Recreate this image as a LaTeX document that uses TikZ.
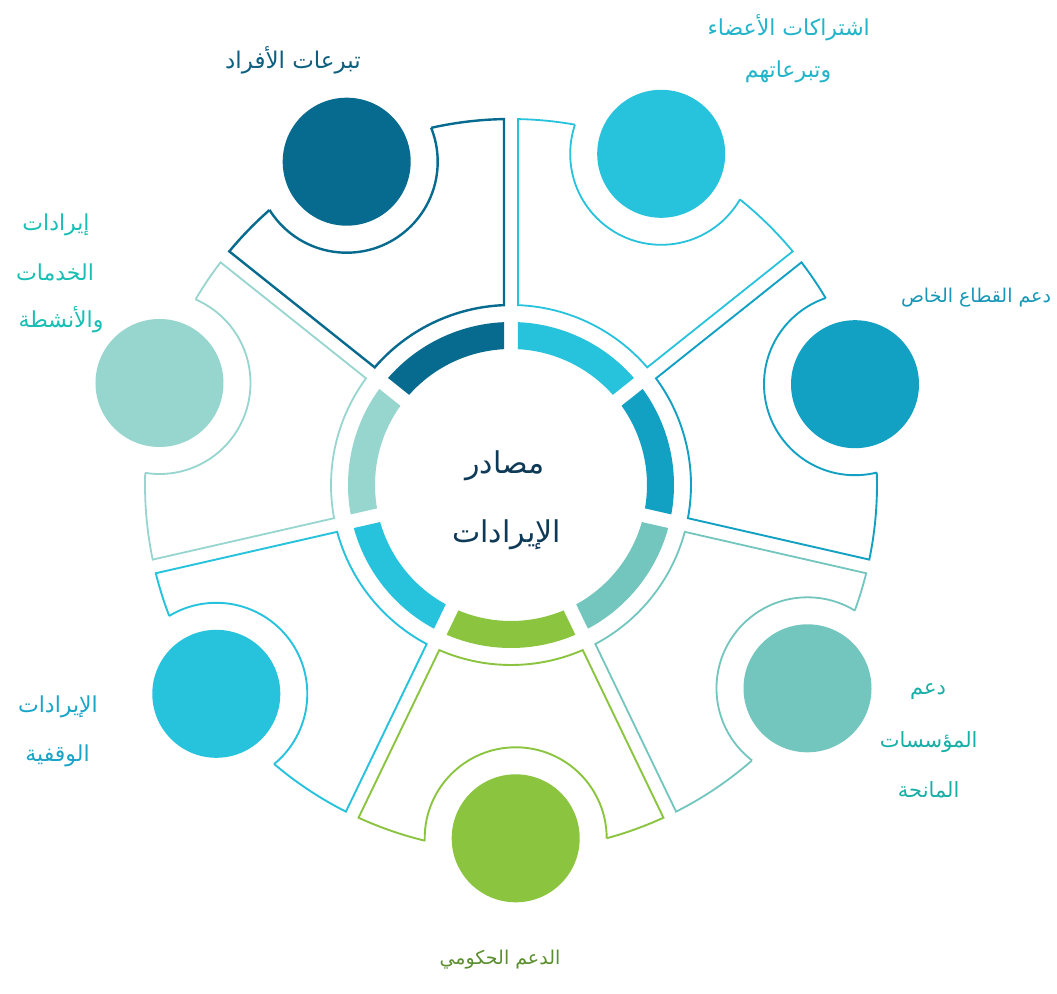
\documentclass[tikz,border=0pt]{standalone}
\usepackage{fontspec}
\newfontfamily\arabicfont[Script=Arabic]{DejaVu Sans}
\TeXXeTstate=1
\definecolor{cDark}{HTML}{076A8F}
\definecolor{cCyan}{HTML}{27C2DC}
\definecolor{cBlue}{HTML}{13A1C3}
\definecolor{cTeal}{HTML}{72C6BE}
\definecolor{cGreen}{HTML}{8BC540}
\definecolor{cLight}{HTML}{97D5CF}
\definecolor{tDark}{HTML}{0D5F7F}
\definecolor{tCyan}{HTML}{22B4CA}
\definecolor{tBlue}{HTML}{1598B8}
\definecolor{tTeal}{HTML}{17AFA6}
\definecolor{tGreen}{HTML}{5B8F2E}
\definecolor{tBL}{HTML}{1AA5C8}
\definecolor{tLeft}{HTML}{19BFB4}
\definecolor{tCenter}{HTML}{0E3A57}
\tikzset{
  lbl/.style={font=\arabicfont\fontsize{22}{26}\selectfont, inner sep=0pt, anchor=center},
  ctr/.style={font=\arabicfont\fontsize{30}{34}\selectfont, inner sep=0pt, anchor=center, text=tCenter}
}
\begin{document}
\begin{tikzpicture}[x=1pt,y=1pt]
\useasboundingbox (-511,-508) rectangle (546,485);
\fill[white] (-511,-508) rectangle (546,485);
\foreach \c/\col/\cx/\cy/\lw in {
  115.714/cDark/-164.3/323.3/2.4,
  64.286/cCyan/150.2/331.2/1.8,
  12.857/cBlue/344/100.8/1.9,
  -38.571/cTeal/296.5/-203.3/1.8,
  -90/cGreen/4.7/-353.3/1.9,
  -141.429/cCyan/-294.7/-208.8/1.9,
  167.143/cLight/-351.5/102/1.8}{
  \pgfmathsetmacro\aLo{\c-25.714}
  \pgfmathsetmacro\aHi{\c+25.714}
  \pgfmathsetmacro\dIn{asin(7/180)}
  \pgfmathsetmacro\dOut{asin(7/366)}
  \pgfmathsetmacro\gIn{asin(7/136)}
  \pgfmathsetmacro\gOut{asin(7/163)}
  % ring segment
  \fill[\col] ({\aLo+\gIn}:136) -- ({\aLo+\gOut}:163)
     arc[start angle={\aLo+\gOut}, end angle={\aHi-\gOut}, radius=163]
     -- ({\aHi-\gIn}:136)
     arc[start angle={\aHi-\gIn}, end angle={\aLo+\gIn}, radius=136] -- cycle;
  % outer shape
  \def\shp{({\aLo+\dIn}:180) -- ({\aLo+\dOut}:366)
     arc[start angle={\aLo+\dOut}, end angle={\aHi-\dOut}, radius=366]
     -- ({\aHi-\dIn}:180)
     arc[start angle={\aHi-\dIn}, end angle={\aLo+\dIn}, radius=180] -- cycle}
  \draw[\col, line width=\lw pt, line join=miter] \shp;
  \fill[white] (\cx,\cy) circle (91);
  \begin{scope}
    \clip \shp;
    \draw[\col, line width=\lw pt] (\cx,\cy) circle (91);
  \end{scope}
  \fill[\col] (\cx,\cy) circle (64);
}
% centre text
\node[ctr] (c1) at (-6,19) {\beginR مصادر\endR};
\node[ctr] (c2) at (-4.5,-50) {\beginR الإيرادات\endR};
% labels
\node[lbl, text=tDark, font=\arabicfont\fontsize{23}{27}\selectfont] (l1) at (-218,425) {\beginR تبرعات الأفراد\endR};
\node[lbl, text=tCyan] (l2a) at (277.7,457) {\beginR اشتراكات الأعضاء\endR};
\node[lbl, text=tCyan] (l2b) at (277,413) {\beginR وتبرعاتهم\endR};
\node[lbl, text=tBlue, font=\arabicfont\fontsize{19}{23}\selectfont] (l3) at (465,187) {\beginR دعم القطاع الخاص\endR};
\node[lbl, text=tTeal, font=\arabicfont\fontsize{21}{25}\selectfont] (l4a) at (417,-207) {\beginR دعم\endR};
\node[lbl, text=tTeal, font=\arabicfont\fontsize{21}{25}\selectfont] (l4b) at (417.7,-257) {\beginR المؤسسات\endR};
\node[lbl, text=tTeal, font=\arabicfont\fontsize{21}{25}\selectfont] (l4c) at (417.7,-305) {\beginR المانحة\endR};
\node[lbl, text=tGreen, font=\arabicfont\fontsize{19}{23}\selectfont] (l5) at (-11,-475) {\beginR الدعم الحكومي\endR};
\node[lbl, text=tBL] (l6a) at (-453,-222) {\beginR الإيرادات\endR};
\node[lbl, text=tBL] (l6b) at (-453.5,-271) {\beginR الوقفية\endR};
\node[lbl, text=tLeft] (l7a) at (-455,260) {\beginR إيرادات\endR};
\node[lbl, text=tLeft] (l7b) at (-456,213) {\beginR الخدمات\endR};
\node[lbl, text=tLeft] (l7c) at (-450,165) {\beginR والأنشطة\endR};
\end{tikzpicture}
\end{document}
